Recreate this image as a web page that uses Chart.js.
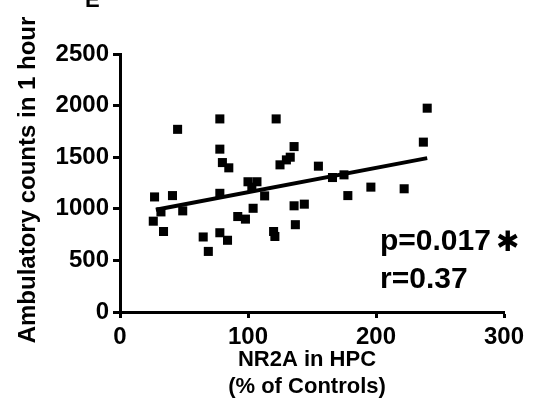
<!DOCTYPE html>
<html>
<head>
<meta charset="utf-8">
<script src="https://cdn.jsdelivr.net/npm/chart.js@4"></script>
<style>
  html, body { margin: 0; padding: 0; background: #fff; }
  #wrap { width: 534px; height: 410px; position: relative; }
</style>
</head>
<body>
<div id="wrap"><canvas id="chart" width="534" height="410"></canvas></div>
<script>
// NR2A in HPC (% of controls) vs ambulatory counts, one square per animal
const nr2a = [27, 41, 45, 78, 78, 80, 85, 78, 100, 107, 103, 122, 136, 133, 130, 125, 155, 166, 175, 196,
  113, 178, 240, 237, 222, 32, 49, 26, 34, 65, 69, 78, 84, 92, 98, 104, 136, 144, 137, 120, 121];
const counts = [1115, 1128, 1770, 1871, 1578, 1448, 1397, 1150, 1262, 1262, 1210, 1871, 1603, 1500, 1474, 1426, 1413, 1303, 1329, 1210,
  1125, 1128, 1975, 1646, 1194, 970, 980, 880, 780, 727, 587, 768, 695, 925, 900, 1005, 1029, 1045, 846, 780, 732];

// regression line end points as drawn
const fitX = [28, 240];
const fitY = [990, 1491];

const xTicks = [0, 100, 200, 300];
const yTicks = [0, 500, 1000, 1500, 2000, 2500];

const FONT = "'Liberation Sans', Arial, sans-serif";

const textPlugin = {
  id: 'texts',
  afterDraw(chart) {
    const ctx = chart.ctx;
    ctx.save();
    ctx.fillStyle = '#000';
    ctx.textAlign = 'center';
    ctx.textBaseline = 'middle';
    ctx.font = `bold 22px ${FONT}`;
    ctx.fillText('NR2A in HPC', 307, 360);
    ctx.fillText('(% of Controls)', 307, 387);

    ctx.save();
    ctx.translate(28, 180);
    ctx.rotate(-Math.PI / 2);
    ctx.font = `bold 24px ${FONT}`;
    ctx.fillText('Ambulatory counts in 1 hour', 0, 0);
    ctx.restore();

    // panel letter, cut by the top edge
    ctx.textAlign = 'left';
    ctx.textBaseline = 'alphabetic';
    ctx.fillText('E', 85, 7);

    ctx.font = `bold 30px ${FONT}`;
    ctx.fillText('p=0.017', 380, 250);
    ctx.fillText('r=0.37', 380, 288);
    ctx.font = `bold 28px 'DejaVu Sans', sans-serif`;
    ctx.fillText('\u2731', 496, 251);
    ctx.restore();
  }
};

const tickFont = { family: FONT, size: 24, weight: 'bold' };

new Chart(document.getElementById('chart'), {
  type: 'scatter',
  data: {
    datasets: [
      {
        data: nr2a.map((x, i) => ({ x, y: counts[i] })),
        pointStyle: 'rect',
        pointRadius: 6.4,
        pointBackgroundColor: '#000',
        pointBorderWidth: 0,
      },
      {
        type: 'line',
        data: fitX.map((x, i) => ({ x, y: fitY[i] })),
        borderColor: '#000',
        borderWidth: 4,
        pointRadius: 0,
        fill: false,
      },
    ],
  },
  options: {
    responsive: false,
    animation: false,
    events: [],
    layout: { padding: { top: 54, right: 30, left: 0, bottom: 0 } },
    plugins: { legend: { display: false }, tooltip: { enabled: false } },
    scales: {
      x: {
        type: 'linear',
        min: 0,
        max: 300,
        afterBuildTicks(s) { s.ticks = xTicks.map((v) => ({ value: v })); },
        afterFit(s) { s.height = 98; },
        border: { display: true, color: '#000', width: 3 },
        grid: { drawOnChartArea: false, drawTicks: true, tickLength: 6, tickWidth: 3, tickColor: '#000' },
        ticks: { color: '#000', font: tickFont, padding: 5, maxRotation: 0, callback: (v) => String(v) },
      },
      y: {
        type: 'linear',
        min: 0,
        max: 2500,
        afterBuildTicks(s) { s.ticks = yTicks.map((v) => ({ value: v })); },
        afterFit(s) { s.width = 120; },
        border: { display: true, color: '#000', width: 3 },
        grid: { drawOnChartArea: false, drawTicks: true, tickLength: 7, tickWidth: 3, tickColor: '#000' },
        ticks: { color: '#000', font: tickFont, padding: 4, callback: (v) => String(v) },
      },
    },
  },
  plugins: [textPlugin],
});
</script>
</body>
</html>
